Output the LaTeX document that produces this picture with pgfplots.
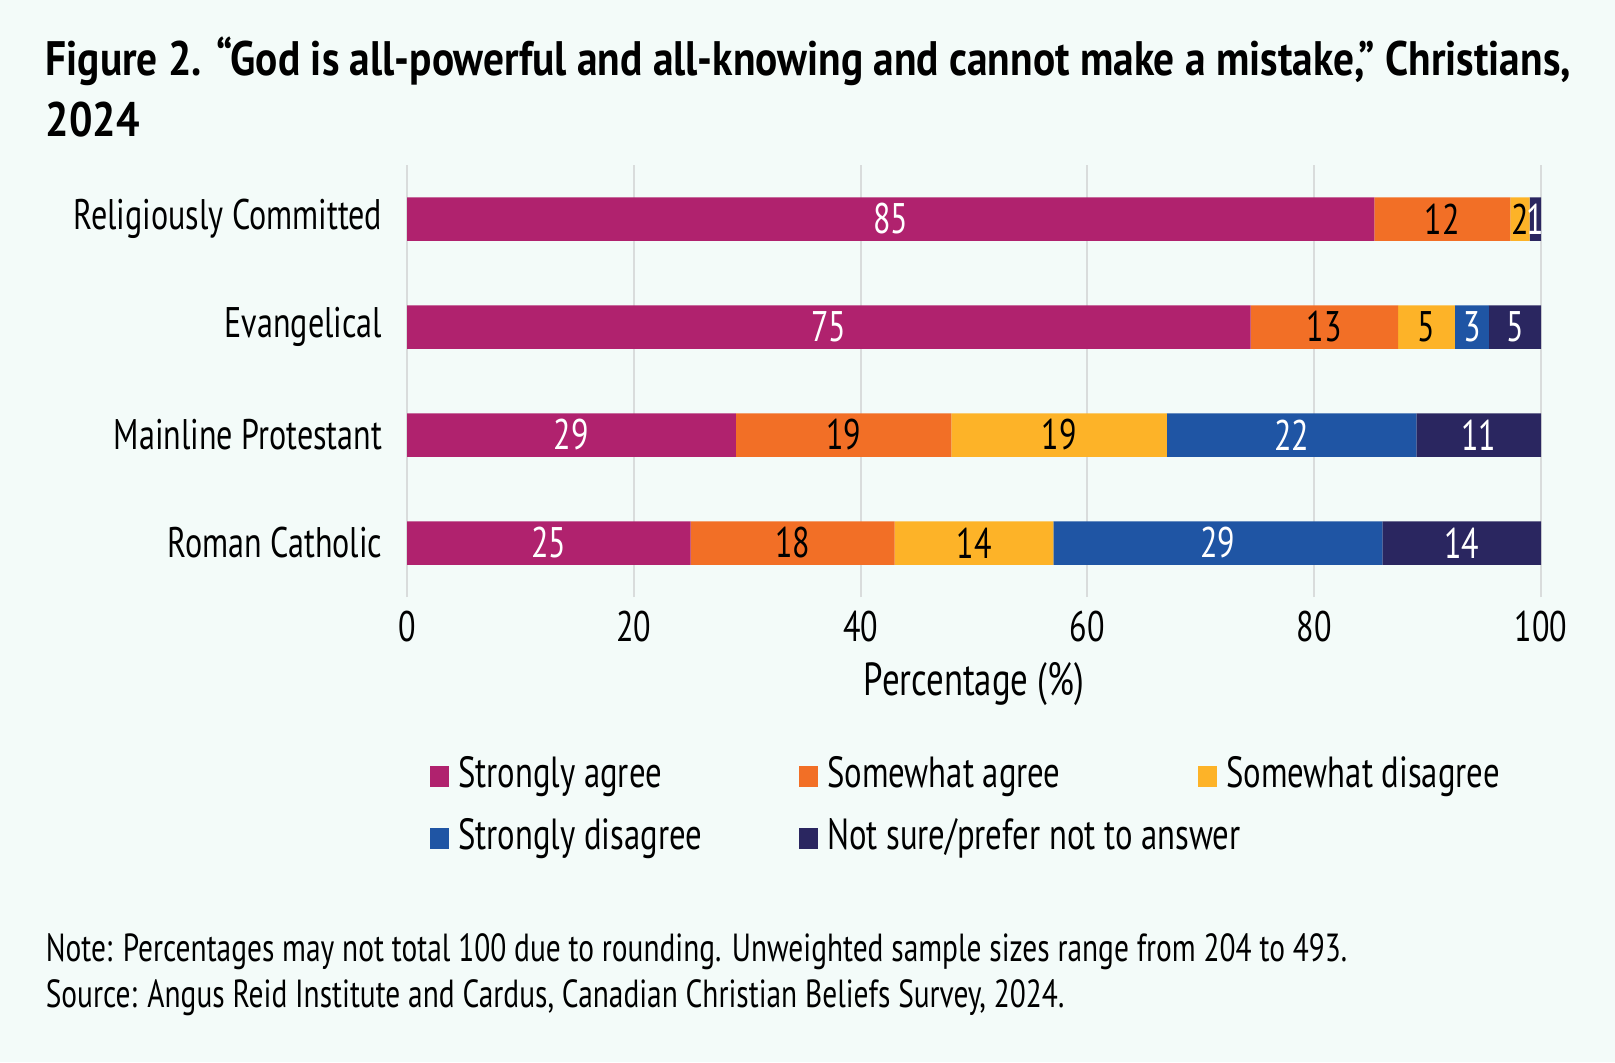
\documentclass[border=0pt]{standalone}
\usepackage{fontspec}
\setmainfont{PT Sans}[FakeStretch=0.75]
\newfontfamily\titlefont{PT Sans}[FakeStretch=0.855]
\usepackage{pgfplots}
\pgfplotsset{compat=1.18}

\definecolor{bgc}{HTML}{F3FBF9}
\definecolor{gridc}{HTML}{D9DCDC}
\definecolor{cSA}{HTML}{B0226E}
\definecolor{cMA}{HTML}{F26F26}
\definecolor{cMD}{HTML}{FDB328}
\definecolor{cSD}{HTML}{1F55A4}
\definecolor{cNS}{HTML}{2A2660}

\newcommand{\fs}[1]{\fontsize{#1}{#1}\selectfont}

\begin{document}
\begin{tikzpicture}[x=0.25pt,y=0.25pt]
\fill[bgc] (0,0) rectangle (1615,1062);

% title
\node[anchor=base west, inner sep=0pt, font=\titlefont\bfseries\fs{12.1}] at (45,986)
  {Figure 2. “God is all-powerful and all-knowing and cannot make a mistake,” Christians,};
\node[anchor=base west, inner sep=0pt, font=\titlefont\bfseries\fs{12.1}] at (45,925) {2024};

\begin{axis}[
  at={(101.75pt,116.25pt)}, anchor=south west,
  scale only axis, width=283.5pt, height=108pt,
  xbar stacked, bar width=10.875pt,
  xmin=0, xmax=100, ymin=-0.5, ymax=3.5,
  xtick={0,20,...,100}, ytick={0,1,2,3},
  yticklabels={Roman Catholic, Mainline Protestant, Evangelical, Religiously Committed},
  xmajorgrids, grid style={color=gridc, line width=0.5pt},
  axis line style={draw=none}, major tick length=0pt, tick style={draw=none},
  tick label style={font=\fs{10.7}, inner sep=0pt},
  xticklabel style={anchor=north, yshift=-3.25pt},
  yticklabel style={anchor=east, xshift=-6pt},
  /pgf/number format/assume math mode=true,
  xlabel={Percentage (\%)},
  xlabel style={font=\fs{11.6}, inner sep=0pt, anchor=base, at={(axis description cs:0.5,-0.229)}},
  point meta=explicit symbolic,
  nodes near coords={\pgfplotspointmeta},
  every node near coord/.append style={anchor=center, inner sep=0pt, font=\fs{10.7}},
  legend columns=3, legend cell align=left,
  legend image code/.code={\fill[#1,draw=none] (0pt,-2.5pt) rectangle (4.75pt,2.75pt);},
  legend style={draw=none, fill=none, inner sep=0pt, outer sep=0pt,
    column sep=0pt, row sep=6.5pt, font=\fs{10.9},
    at={(axis description cs:0.0204,-0.375)}, anchor=north west,
    nodes={inner sep=0pt, text height=7pt, text depth=2pt}},
]
\addplot[fill=cSA, draw=none, every node near coord/.append style={text=white}]
  coordinates {(85.3,3) [85] (74.4,2) [75] (29,1) [29] (25,0) [25]};
\addplot[fill=cMA, draw=none, every node near coord/.append style={text=black}]
  coordinates {(12,3) [12] (13,2) [13] (19,1) [19] (18,0) [18]};
\addplot[fill=cMD, draw=none, every node near coord/.append style={text=black}]
  coordinates {(1.7,3) [2] (5,2) [5] (19,1) [19] (14,0) [14]};
\addplot[fill=cSD, draw=none, every node near coord/.append style={text=white}]
  coordinates {(0,3) [\relax] (3,2) [3] (22,1) [22] (29,0) [29]};
\addplot[fill=cNS, draw=none, every node near coord/.append style={text=white}]
  coordinates {(1,3) [1] (4.6,2) [5] (11,1) [11] (14,0) [14]};
\legend{
  \hspace*{2.25pt}\makebox[85.25pt][l]{Strongly agree},
  \hspace*{2.25pt}\makebox[92.75pt][l]{Somewhat agree},
  \hspace*{2.25pt}\makebox[80pt][l]{Somewhat disagree},
  \hspace*{2.25pt}\makebox[85.25pt][l]{Strongly disagree},
  \hspace*{2.25pt}\makebox[92.75pt][l]{Not sure/prefer not to answer}}
\end{axis}

% note
\node[anchor=base west, inner sep=0pt, font=\fs{9.8}] at (45,101)
  {Note: Percentages may not total 100 due to rounding. Unweighted sample sizes range from 204 to 493.};
\node[anchor=base west, inner sep=0pt, font=\fs{9.8}] at (45,55)
  {Source: Angus Reid Institute and Cardus, Canadian Christian Beliefs Survey, 2024.};
\end{tikzpicture}
\end{document}
